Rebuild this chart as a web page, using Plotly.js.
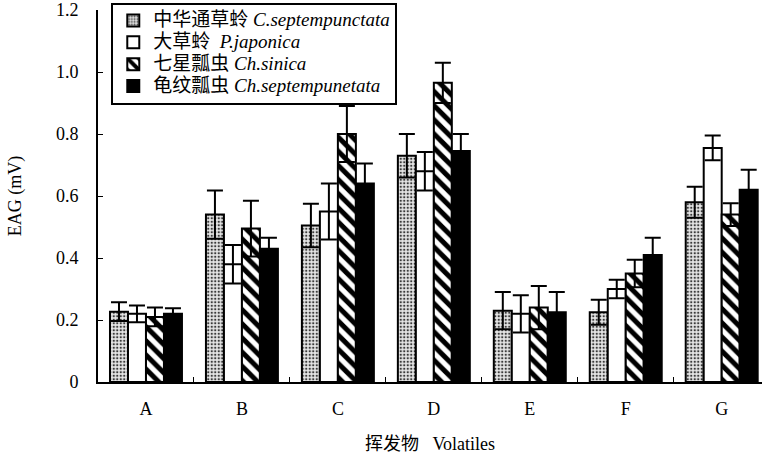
<!DOCTYPE html>
<html>
<head>
<meta charset="utf-8">
<script src="https://cdn.plot.ly/plotly-3.0.1.min.js"></script>
<style>
  html, body { margin: 0; padding: 0; background: #fff; }
  #chart { width: 770px; height: 456px; }
</style>
</head>
<body>
<div id="chart"></div>
<script>
// Volatile compounds tested
const categories = ['A', 'B', 'C', 'D', 'E', 'F', 'G'];

// Mean EAG responses (mV) and their error bars, one pair per insect species
const chrysopaSinica = [0.227, 0.54, 0.505, 0.73, 0.23, 0.225, 0.58];
const chrysopaSinicaErr = [0.03, 0.078, 0.07, 0.07, 0.06, 0.04, 0.05];

const chrysopaPallens = [0.22, 0.38, 0.55, 0.68, 0.22, 0.30, 0.755];
const chrysopaPallensErr = [0.027, 0.062, 0.09, 0.062, 0.06, 0.03, 0.04];

const harmoniaSinica = [0.21, 0.495, 0.80, 0.965, 0.24, 0.35, 0.54];
const harmoniaSinicaErr = [0.03, 0.09, 0.09, 0.065, 0.07, 0.044, 0.037];

const coccinella = [0.22, 0.43, 0.64, 0.745, 0.225, 0.41, 0.62];
const coccinellaErr = [0.018, 0.035, 0.065, 0.055, 0.065, 0.055, 0.065];

const seriesNames = [
  '中华通草蛉 <i>C.septempunctata</i>',
  '大草蛉\u00a0\u00a0<i>P.japonica</i>',
  '七星瓢虫 <i>Ch.sinica</i>',
  '龟纹瓢虫 <i>Ch.septempunetata</i>'
];

// Y axis tick labels
const yTickVals = [0, 0.2, 0.4, 0.6, 0.8, 1.0, 1.2];
const yTickText = ['0', '0.2', '0.4', '0.6', '0.8', '1.0', '1.2'];

const serif = '"Liberation Serif", "Times New Roman", "Noto Sans CJK SC", serif';

// Legend rows are kept compact: the row height follows legend.font,
// while the entry text itself is set a little larger.
function legendLabel(name) {
  return '<span style="font-size:19px">' + name + '</span>';
}

function errBar(arr) {
  return { type: 'data', array: arr, visible: true, color: '#000', thickness: 2, width: 8 };
}

const outline = { color: '#000', width: 2 };

const traces = [
  {
    type: 'bar', x: categories, y: chrysopaSinica, name: legendLabel(seriesNames[0]),
    marker: { color: '#fff', line: outline,
      pattern: { shape: '.', fgcolor: '#3a3a3a', bgcolor: '#e6e6e6', size: 3.5, solidity: 0.35 } },
    error_y: errBar(chrysopaSinicaErr)
  },
  {
    type: 'bar', x: categories, y: chrysopaPallens, name: legendLabel(seriesNames[1]),
    marker: { color: '#fff', line: outline },
    error_y: errBar(chrysopaPallensErr)
  },
  {
    type: 'bar', x: categories, y: harmoniaSinica, name: legendLabel(seriesNames[2]),
    marker: { color: '#fff', line: outline,
      pattern: { shape: '\\', fgcolor: '#000', bgcolor: '#fff', size: 10, solidity: 0.5 } },
    error_y: errBar(harmoniaSinicaErr)
  },
  {
    type: 'bar', x: categories, y: coccinella, name: legendLabel(seriesNames[3]),
    marker: { color: '#000', line: outline },
    error_y: errBar(coccinellaErr)
  }
];

const layout = {
  width: 770,
  height: 456,
  margin: { l: 98, r: 8, t: 10, b: 74, autoexpand: false },
  paper_bgcolor: '#fff',
  plot_bgcolor: '#fff',
  barmode: 'group',
  bargap: 0.25,
  bargroupgap: 0,
  font: { family: serif, color: '#000', size: 15 },
  showlegend: true,
  legend: {
    x: 0.02, y: 1.02, xanchor: 'left', yanchor: 'top',
    bgcolor: '#fff', bordercolor: '#000', borderwidth: 2,
    font: { family: serif, size: 14.5, color: '#000' },
    tracegroupgap: 0,
    itemwidth: 30
  },
  xaxis: {
    type: 'category',
    range: [-0.5, 6.42],
    showline: true, linecolor: '#000', linewidth: 2,
    ticks: 'inside', tickson: 'boundaries', ticklen: 5, tickwidth: 1, tickcolor: '#000',
    showgrid: false, zeroline: false,
    tickfont: { family: serif, size: 18 },
    ticklabelstandoff: 9,
    title: { text: '挥发物\u00a0\u00a0\u00a0Volatiles', font: { family: serif, size: 18 }, standoff: 20 }
  },
  yaxis: {
    range: [0, 1.2],
    tickvals: yTickVals, ticktext: yTickText,
    showline: true, linecolor: '#000', linewidth: 2,
    ticks: 'inside', ticklen: 5, tickwidth: 1, tickcolor: '#000',
    showgrid: false, zeroline: false,
    tickfont: { family: serif, size: 18 },
    ticklabelstandoff: 14,
    title: { text: 'EAG (mV)', font: { family: serif, size: 18 }, standoff: 30 }
  }
};

Plotly.newPlot('chart', traces, layout, { displayModeBar: false, staticPlot: true });
</script>
</body>
</html>
